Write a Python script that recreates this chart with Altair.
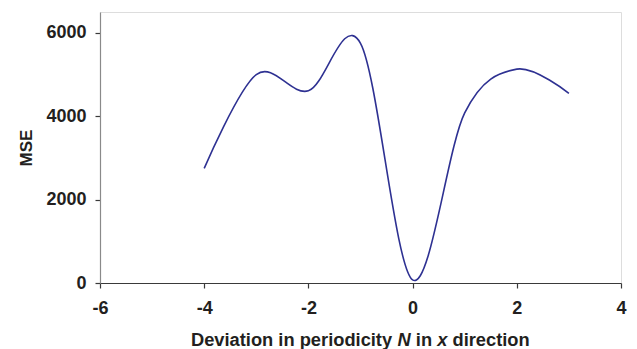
import altair as alt
import pandas as pd

# Data
deviation = [-4, -3, -2, -1, 0, 1, 2, 3]
mse = [2750, 5000, 4610, 5750, 75, 4080, 5130, 4550]

x_ticks = [-6, -4, -2, 0, 2, 4]
y_ticks = [0, 2000, 4000, 6000]

# x-axis title pieces (text, italic?, x offset in px from plot left)
title_parts = ["Deviation in periodicity", "N", "in", "x", "direction"]
title_italic = [False, True, False, True, False]
title_offsets = [91.0, 297.5, 315.8, 337.2, 352.5]

df = pd.DataFrame({"dev": deviation, "mse": mse})

FONT = "Liberation Sans"
TXT = "#231f20"

line = alt.Chart(df).mark_line(
    interpolate="cardinal", tension=0, color="#2e3192", strokeWidth=1.6
).encode(
    x=alt.X("dev:Q",
            scale=alt.Scale(domain=[-6, 4], nice=False),
            axis=alt.Axis(values=x_ticks, title=None, grid=False,
                          labelExpr="'' + datum.value",
                          domainColor="#3a3a3a", domainWidth=1.2,
                          tickColor="#3a3a3a", tickSize=5, tickWidth=1.2,
                          labelFont=FONT, labelFontSize=18, labelFontWeight="bold",
                          labelColor=TXT, labelPadding=11, labelFlush=False)),
    y=alt.Y("mse:Q",
            scale=alt.Scale(domain=[0, 6500], nice=False),
            axis=alt.Axis(values=y_ticks, title="MSE", grid=False,
                          labelExpr="'' + datum.value",
                          domainColor="#8a8a8a", domainWidth=1.2,
                          tickColor="#3a3a3a", tickSize=5, tickWidth=1.2,
                          labelFont=FONT, labelFontSize=18, labelFontWeight="bold",
                          labelColor=TXT, labelPadding=9, labelFlush=False,
                          titleFont=FONT, titleFontSize=17, titleFontWeight="bold",
                          titleColor=TXT, titlePadding=10)),
)

layers = [line]
for txt, ital, off in zip(title_parts, title_italic, title_offsets):
    t = alt.Chart(pd.DataFrame({"t": [txt]})).mark_text(
        font=FONT, fontSize=18.3, fontWeight="bold",
        fontStyle="italic" if ital else "normal",
        align="left", baseline="alphabetic", color=TXT,
    ).encode(text="t:N", x=alt.value(off), y=alt.value(334))
    layers.append(t)

chart = alt.layer(*layers).properties(
    width=521, height=271,
    autosize=alt.AutoSizeParams(type="none"),
    padding={"left": 100, "top": 12, "right": 16, "bottom": 66},
).configure_view(stroke=None).configure(background="white")

chart.save("out.html", embed_options={"renderer": "svg", "actions": False})
